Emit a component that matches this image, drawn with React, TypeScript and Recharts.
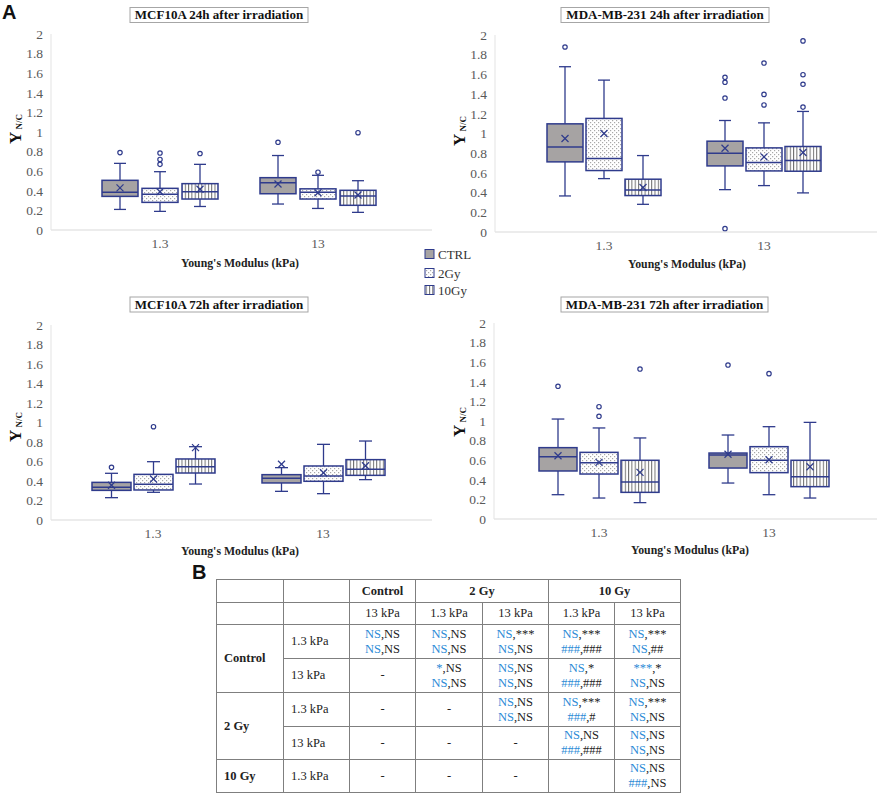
import React from 'react';
import { ComposedChart, Bar, XAxis, YAxis } from 'recharts';

const CATEGORIES = ['1.3', '13'];
const Y_TICKS = [0, 0.2, 0.4, 0.6, 0.8, 1, 1.2, 1.4, 1.6, 1.8, 2];
const SERIES = ['CTRL', '2Gy', '10Gy'];

// Box stats per stiffness category: [low whisker, Q1, median, Q3, high whisker, mean]
const MCF24_CTRL = [[0.21, 0.343, 0.384, 0.507, 0.68, 0.43], [0.265, 0.37, 0.483, 0.534, 0.76, 0.47]];
const MCF24_CTRL_OUT = [[0.79], [0.895]];
const MCF24_2GY = [[0.19, 0.282, 0.364, 0.425, 0.595, 0.39], [0.22, 0.316, 0.384, 0.42, 0.558, 0.38]];
const MCF24_2GY_OUT = [[0.785, 0.72, 0.67], [0.59]];
const MCF24_10GY = [[0.24, 0.316, 0.39, 0.473, 0.67, 0.415], [0.18, 0.252, 0.347, 0.405, 0.503, 0.357]];
const MCF24_10GY_OUT = [[0.78], [0.993]];

const MDA24_CTRL = [[0.366, 0.712, 0.864, 1.098, 1.678, 0.949], [0.43, 0.671, 0.8, 0.922, 1.132, 0.851]];
const MDA24_CTRL_OUT = [[1.878], [1.57, 1.52, 1.36, 0.034]];
const MDA24_2GY = [[0.542, 0.624, 0.746, 1.153, 1.542, 1.0], [0.471, 0.62, 0.705, 0.854, 1.108, 0.763]];
const MDA24_2GY_OUT = [[], [1.715, 1.397, 1.29]];
const MDA24_10GY = [[0.281, 0.37, 0.427, 0.536, 0.776, 0.451], [0.397, 0.617, 0.725, 0.868, 1.224, 0.807]];
const MDA24_10GY_OUT = [[], [1.94, 1.597, 1.5, 1.268]];

const MCF72_CTRL = [[0.229, 0.304, 0.335, 0.386, 0.479, 0.356], [0.294, 0.38, 0.427, 0.465, 0.537, 0.571]];
const MCF72_CTRL_OUT = [[0.54], []];
const MCF72_2GY = [[0.284, 0.308, 0.366, 0.468, 0.598, 0.42], [0.27, 0.397, 0.451, 0.554, 0.776, 0.485]];
const MCF72_2GY_OUT = [[0.957], []];
const MCF72_10GY = [[0.369, 0.482, 0.547, 0.626, 0.752, 0.742], [0.414, 0.458, 0.52, 0.619, 0.81, 0.557]];
const MCF72_10GY_OUT = [[], []];

const MDA72_CTRL = [[0.248, 0.49, 0.636, 0.728, 1.02, 0.646], [0.367, 0.52, 0.653, 0.673, 0.857, 0.66]];
const MDA72_CTRL_OUT = [[1.354], [1.571]];
const MDA72_2GY = [[0.214, 0.459, 0.575, 0.68, 0.929, 0.578], [0.248, 0.473, 0.599, 0.738, 0.942, 0.605]];
const MDA72_2GY_OUT = [[1.146, 1.048], [1.483]];
const MDA72_10GY = [[0.167, 0.272, 0.378, 0.599, 0.827, 0.476], [0.214, 0.33, 0.432, 0.599, 0.986, 0.534]];
const MDA72_10GY_OUT = [[1.53], []];

const PANEL_TITLES = [
  'MCF10A 24h after irradiation',
  'MDA-MB-231 24h after irradiation',
  'MCF10A 72h after irradiation',
  'MDA-MB-231 72h after irradiation',
];
const X_TITLE = "Young's Modulus (kPa)";

// Table B
const COL_HEAD_1 = [['Control', 1], ['2 Gy', 2], ['10 Gy', 2]];
const COL_HEAD_2 = ['13 kPa', '1.3 kPa', '13 kPa', '1.3 kPa', '13 kPa'];
const ROW_GROUPS = [['Control', 2], ['2 Gy', 2], ['10 Gy', 1]];
const ROW_SUB = ['1.3 kPa', '13 kPa', '1.3 kPa', '13 kPa', '1.3 kPa'];
// each cell: '-' | '' | [[blue, black], [blue, black]]
const TABLE_CELLS: any[][] = [
  [[['NS', 'NS'], ['NS', 'NS']], [['NS', 'NS'], ['NS', 'NS']], [['NS', '***'], ['NS', 'NS']], [['NS', '***'], ['###', '###']], [['NS', '***'], ['NS', '##']]],
  ['-', [['*', 'NS'], ['NS', 'NS']], [['NS', 'NS'], ['NS', 'NS']], [['NS', '*'], ['###', '###']], [['***', '*'], ['NS', 'NS']]],
  ['-', '-', [['NS', 'NS'], ['NS', 'NS']], [['NS', '***'], ['###', '#']], [['NS', '***'], ['NS', 'NS']]],
  ['-', '-', '-', [['NS', 'NS'], ['###', '###']], [['NS', 'NS'], ['NS', 'NS']]],
  ['-', '-', '-', '', [['NS', 'NS'], ['###', 'NS']]],
];

const NAVY = '#2f3b8c';
const FILLS = ['#a6a3a3', 'url(#dotsPat)', 'url(#vlinesPat)'];
const SERIF = '"Liberation Serif", "Times New Roman", serif';

function toStats(arr: number[], out: number[]) {
  return { low: arr[0], q1: arr[1], med: arr[2], q3: arr[3], high: arr[4], mean: arr[5], out };
}

function buildData(sets: number[][][], outs: number[][][]) {
  return CATEGORIES.map((cat, i) => ({
    cat,
    s0: toStats(sets[0][i], outs[0][i]),
    s1: toStats(sets[1][i], outs[1][i]),
    s2: toStats(sets[2][i], outs[2][i]),
  }));
}

const DATA = [
  buildData([MCF24_CTRL, MCF24_2GY, MCF24_10GY], [MCF24_CTRL_OUT, MCF24_2GY_OUT, MCF24_10GY_OUT]),
  buildData([MDA24_CTRL, MDA24_2GY, MDA24_10GY], [MDA24_CTRL_OUT, MDA24_2GY_OUT, MDA24_10GY_OUT]),
  buildData([MCF72_CTRL, MCF72_2GY, MCF72_10GY], [MCF72_CTRL_OUT, MCF72_2GY_OUT, MCF72_10GY_OUT]),
  buildData([MDA72_CTRL, MDA72_2GY, MDA72_10GY], [MDA72_CTRL_OUT, MDA72_2GY_OUT, MDA72_10GY_OUT]),
];

const LAYOUTS = [
  { left: 0, top: 0, width: 440, height: 290, margin: { top: 34, right: 8, bottom: 30, left: 0 }, yw: 51, padL: 30, padR: 35, barSize: 36, barGap: 4 },
  { left: 440, top: 0, width: 446, height: 290, margin: { top: 35, right: 9, bottom: 28, left: 0 }, yw: 55, padL: 29, padR: 33, barSize: 36, barGap: 3 },
  { left: 0, top: 290, width: 440, height: 290, margin: { top: 35, right: 8, bottom: 30, left: 0 }, yw: 51, padL: 17, padR: 24, barSize: 39, barGap: 3 },
  { left: 440, top: 290, width: 446, height: 290, margin: { top: 33, right: 9, bottom: 31, left: 0 }, yw: 54, padL: 20, padR: 23, barSize: 38, barGap: 3 },
];

function makeBoxShape(key: string, fill: string) {
  return (props: any) => {
    const { x, y, width, height, payload } = props;
    const s = payload[key];
    const span = s.high - s.low;
    const py = (v: number) => y + (height * (s.high - v)) / span;
    const cx = x + width / 2;
    const cap = width / 6;
    const mx = py(s.mean);
    const m = 3.5;
    return (
      <g>
        <line x1={cx} x2={cx} y1={py(s.high)} y2={py(s.q3)} stroke={NAVY} strokeWidth={1.3} />
        <line x1={cx} x2={cx} y1={py(s.q1)} y2={py(s.low)} stroke={NAVY} strokeWidth={1.3} />
        <line x1={cx - cap} x2={cx + cap} y1={py(s.high)} y2={py(s.high)} stroke={NAVY} strokeWidth={1.3} />
        <line x1={cx - cap} x2={cx + cap} y1={py(s.low)} y2={py(s.low)} stroke={NAVY} strokeWidth={1.3} />
        <rect x={x} y={py(s.q3)} width={width} height={py(s.q1) - py(s.q3)} fill={fill} stroke={NAVY} strokeWidth={1.5} />
        <line x1={x} x2={x + width} y1={py(s.med)} y2={py(s.med)} stroke={NAVY} strokeWidth={1.5} />
        <line x1={cx - m} x2={cx + m} y1={mx - m} y2={mx + m} stroke={NAVY} strokeWidth={1.3} />
        <line x1={cx - m} x2={cx + m} y1={mx + m} y2={mx - m} stroke={NAVY} strokeWidth={1.3} />
        {s.out.map((o: number, i: number) => (
          <circle key={i} cx={cx} cy={py(o)} r={2.2} fill="#fff" stroke={NAVY} strokeWidth={1.2} />
        ))}
      </g>
    );
  };
}

function Panel({ idx }: { idx: number }) {
  const L = LAYOUTS[idx];
  const data = DATA[idx];
  return (
    <div style={{ position: 'absolute', left: L.left, top: L.top }}>
      <ComposedChart width={L.width} height={L.height} data={data} margin={L.margin} barSize={L.barSize} barGap={L.barGap}>
        <XAxis
          dataKey="cat"
          height={30}
          padding={{ left: L.padL, right: L.padR }}
          tickLine={false}
          axisLine={{ stroke: '#d9d9d9' }}
          tick={{ fontSize: 13.5, fill: '#595959', fontFamily: SERIF }}
          interval={0}
        />
        <YAxis
          width={L.yw}
          domain={[0, 2]}
          ticks={Y_TICKS}
          tickLine={false}
          axisLine={{ stroke: '#e3e3e3' }}
          tick={{ fontSize: 13.5, fill: '#595959', fontFamily: SERIF }}
          interval={0}
        />
        {SERIES.map((name, i) => (
          <Bar
            key={name}
            name={name}
            dataKey={(d: any) => [d['s' + i].low, d['s' + i].high]}
            isAnimationActive={false}
            shape={makeBoxShape('s' + i, FILLS[i])}
          />
        ))}
      </ComposedChart>
    </div>
  );
}

const TITLE_POS = [
  { cx: 219, y: 7.5, w: 178, base: 19 },
  { cx: 665, y: 7.5, w: 208, base: 19 },
  { cx: 219, y: 297, w: 178, base: 308.5 },
  { cx: 664.5, y: 297, w: 207, base: 308.5 },
];
const XTITLE_POS = [{ cx: 240, base: 267 }, { cx: 687, base: 268 }, { cx: 240, base: 555 }, { cx: 690, base: 554 }];
const YTITLE_POS = [{ x: 21, cy: 129 }, { x: 465, cy: 131 }, { x: 21, cy: 427 }, { x: 465, cy: 422 }];
const LEGEND_Y = [254, 273, 290];

function Overlay() {
  return (
    <svg width={886} height={794} style={{ position: 'absolute', left: 0, top: 0, pointerEvents: 'none' }}>
      <text x={2} y={19} fontFamily='"Liberation Sans", Arial, sans-serif' fontWeight="bold" fontSize={20} fill="#111">A</text>
      <text x={192} y={579} fontFamily='"Liberation Sans", Arial, sans-serif' fontWeight="bold" fontSize={20} fill="#111">B</text>
      {PANEL_TITLES.map((t, i) => {
        const p = TITLE_POS[i];
        return (
          <g key={i}>
            <rect x={p.cx - p.w / 2} y={p.y} width={p.w} height={15} fill="#fff" stroke="#a6a6a6" strokeWidth={1} />
            <text x={p.cx} y={p.base} textAnchor="middle" fontFamily={SERIF} fontWeight="bold" fontSize={13} fill="#111">{t}</text>
          </g>
        );
      })}
      {XTITLE_POS.map((p, i) => (
        <text key={i} x={p.cx} y={p.base} textAnchor="middle" fontFamily={SERIF} fontWeight="bold" fontSize={11.8} fill="#222">{X_TITLE}</text>
      ))}
      {YTITLE_POS.map((p, i) => (
        <text key={i} transform={`translate(${p.x},${p.cy}) rotate(-90)`} textAnchor="middle" fontFamily={SERIF} fontWeight="bold" fill="#111">
          <tspan fontSize={17}>Y</tspan>
          <tspan fontSize={9} dx={2} dy={1}>N/C</tspan>
        </text>
      ))}
      {SERIES.map((s, i) => (
        <g key={s}>
          <rect x={425} y={LEGEND_Y[i] - 4.5} width={9} height={9} fill={FILLS[i]} stroke={NAVY} strokeWidth={1} />
          <text x={438} y={LEGEND_Y[i] + 4.5} fontFamily={SERIF} fontSize={13} fill="#333">{s}</text>
        </g>
      ))}
    </svg>
  );
}

const cellBase: React.CSSProperties = { border: '1px solid #7f7f7f', padding: 0, textAlign: 'center', verticalAlign: 'middle' };

function Cell({ v }: { v: any }) {
  if (typeof v === 'string') return <td style={cellBase}>{v}</td>;
  return (
    <td style={{ ...cellBase, lineHeight: '15px' }}>
      {v.map((line: string[], i: number) => (
        <div key={i}>
          <span style={{ color: '#2b8ad6' }}>{line[0]}</span>,<span>{line[1]}</span>
        </div>
      ))}
    </td>
  );
}

function StatTable() {
  const widths = [67, 66, 66, 67, 66, 66, 66];
  const rowH = [23, 22, 34, 34, 34, 33, 33];
  const rows: any[] = [];
  let r = 0;
  ROW_GROUPS.forEach(([g, span]: any) => {
    for (let k = 0; k < span; k++) {
      rows.push(
        <tr key={'r' + r} style={{ height: rowH[2 + r] }}>
          {k === 0 && (
            <td rowSpan={span} style={{ ...cellBase, textAlign: 'left', paddingLeft: 7, fontWeight: 'bold' }}>{g}</td>
          )}
          <td style={{ ...cellBase, textAlign: 'left', paddingLeft: 7 }}>{ROW_SUB[r]}</td>
          {TABLE_CELLS[r].map((c, j) => <Cell key={j} v={c} />)}
        </tr>
      );
      r++;
    }
  });
  return (
    <table
      style={{
        position: 'absolute', left: 216, top: 579, width: 464, borderCollapse: 'collapse', tableLayout: 'fixed',
        fontFamily: SERIF, fontSize: 12.5, color: '#222', border: '1.5px solid #7f7f7f',
      }}
    >
      <colgroup>
        {widths.map((w, i) => <col key={i} style={{ width: w }} />)}
      </colgroup>
      <tbody>
        <tr style={{ height: rowH[0] }}>
          <td style={cellBase}></td>
          <td style={cellBase}></td>
          {COL_HEAD_1.map(([t, s]: any) => (
            <td key={t} colSpan={s} style={{ ...cellBase, fontWeight: 'bold' }}>{t}</td>
          ))}
        </tr>
        <tr style={{ height: rowH[1] }}>
          <td style={cellBase}></td>
          <td style={cellBase}></td>
          {COL_HEAD_2.map((t, i) => <td key={i} style={cellBase}>{t}</td>)}
        </tr>
        {rows}
      </tbody>
    </table>
  );
}

export default function App() {
  return (
    <div style={{ position: 'absolute', left: 0, top: 0, width: 886, height: 794, background: '#fff', overflow: 'hidden' }}>
      <svg width={0} height={0} style={{ position: 'absolute' }}>
        <defs>
          <pattern id="dotsPat" width={4} height={4} patternUnits="userSpaceOnUse">
            <rect width={4} height={4} fill="#fff" />
            <rect x={0} y={0} width={1.2} height={1.2} fill="#a8a8a8" />
            <rect x={2} y={2} width={1.2} height={1.2} fill="#a8a8a8" />
          </pattern>
          <pattern id="vlinesPat" width={3.3} height={4} patternUnits="userSpaceOnUse">
            <rect width={3.3} height={4} fill="#fff" />
            <rect x={0} y={0} width={1} height={4} fill="#707070" />
          </pattern>
        </defs>
      </svg>
      {[0, 1, 2, 3].map((i) => <Panel key={i} idx={i} />)}
      <StatTable />
      <Overlay />
    </div>
  );
}
